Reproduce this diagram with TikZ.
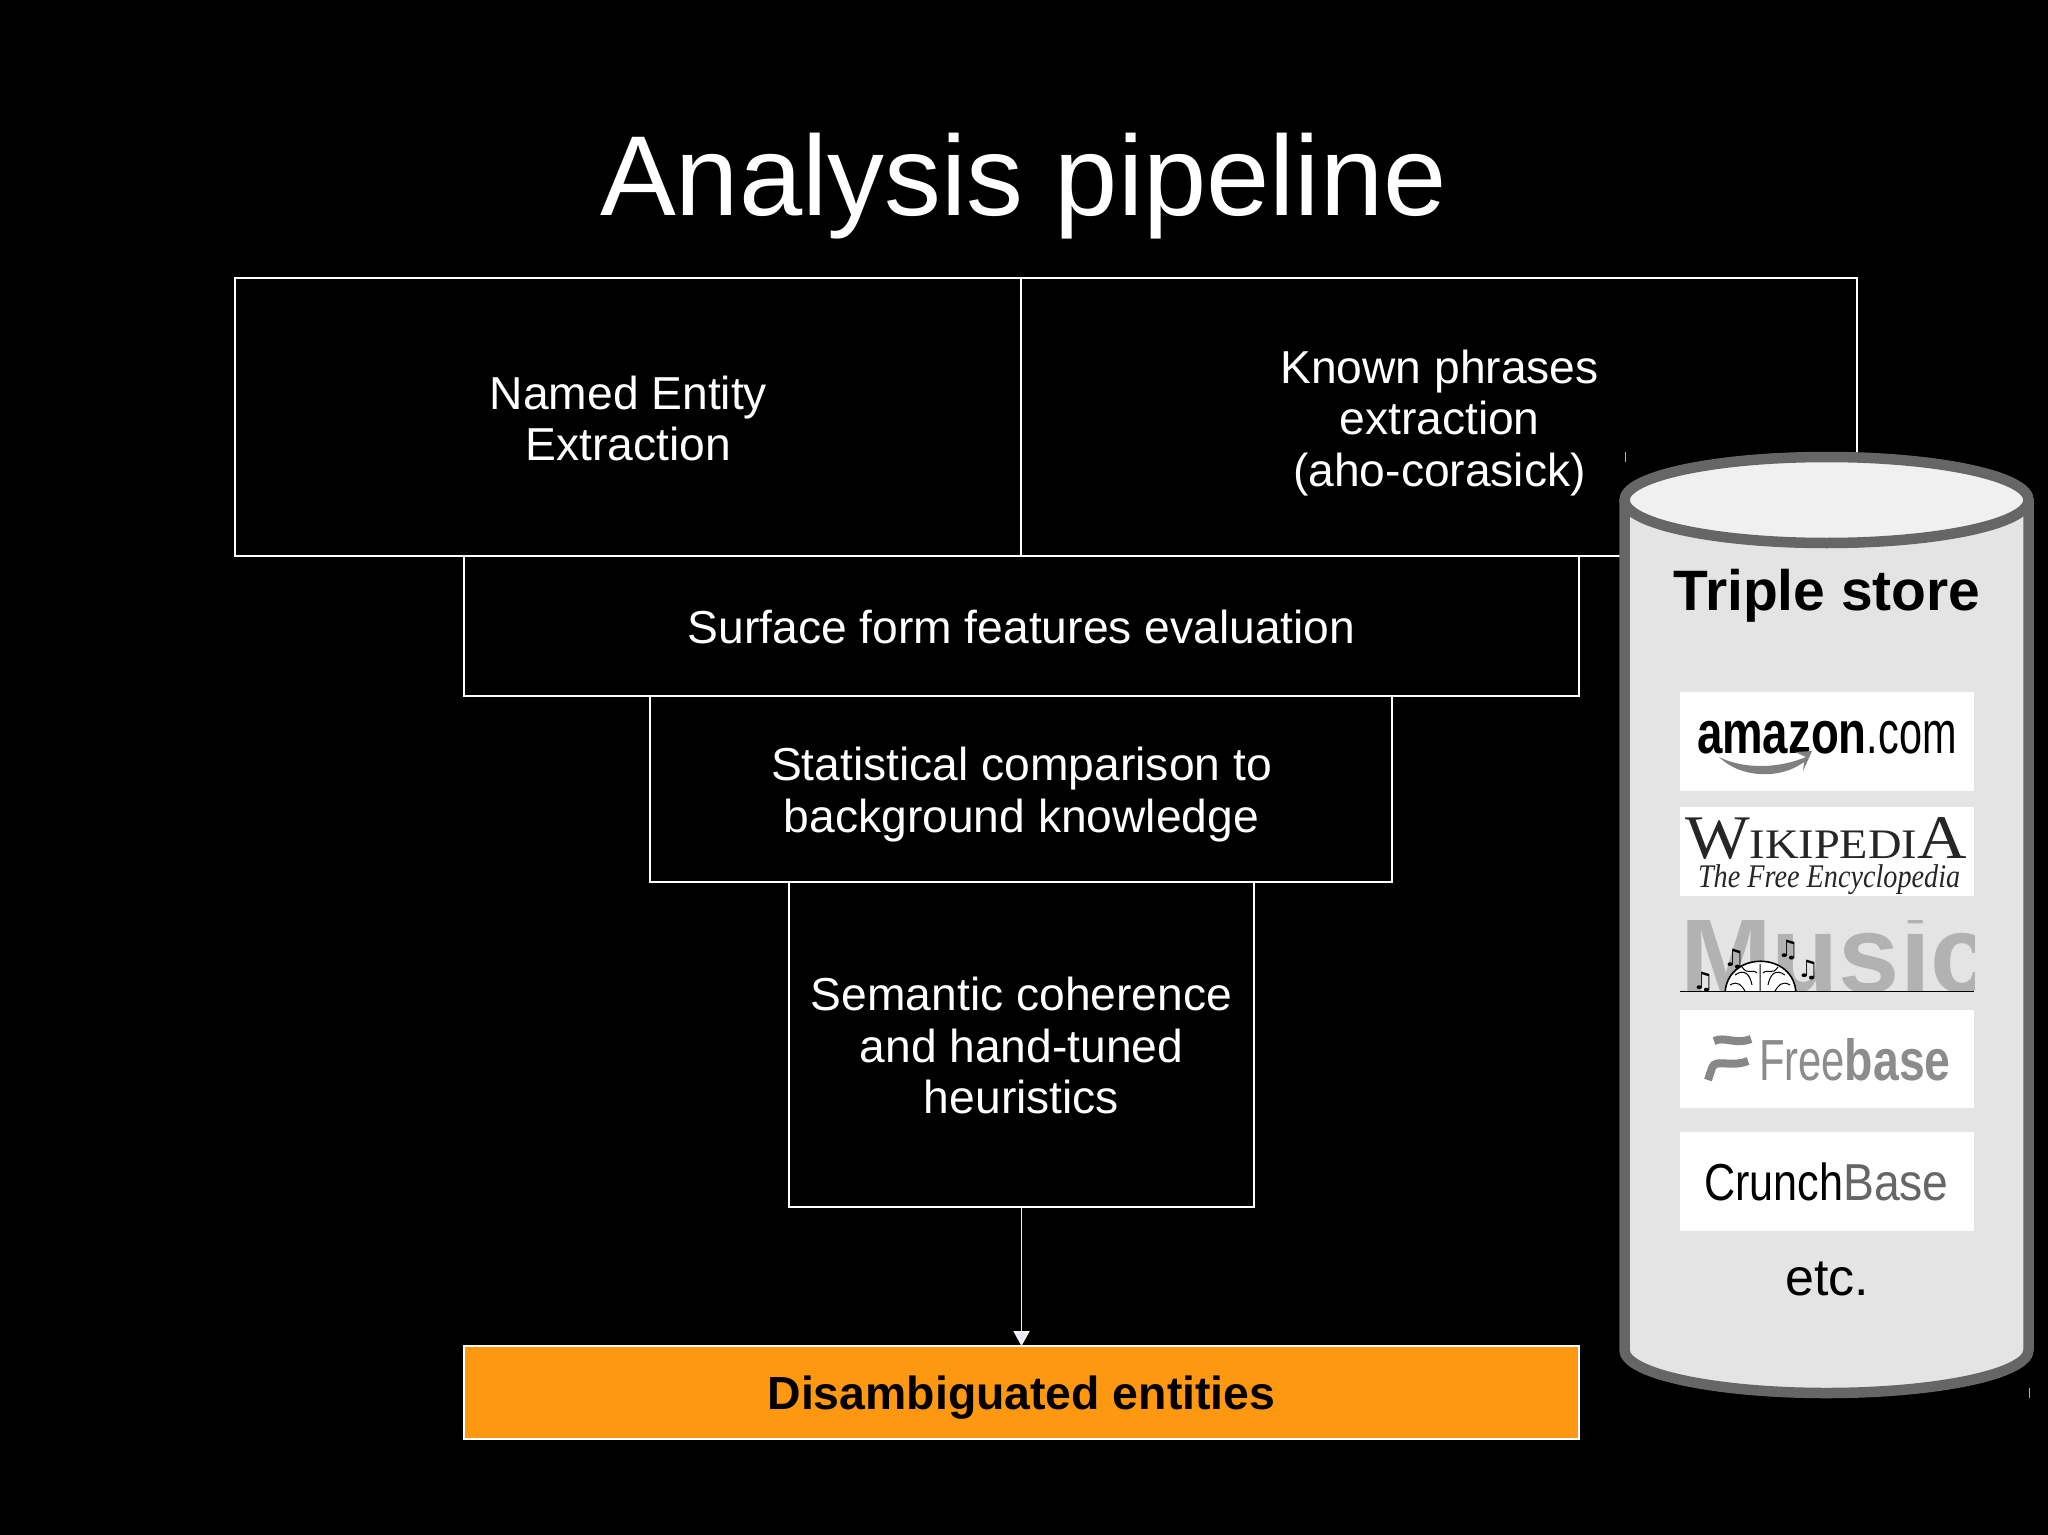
\documentclass[tikz,border=0pt]{standalone}
\usepackage{fontspec}
\usepackage{graphicx}
\setmainfont{Liberation Sans}
\newfontfamily\wikifont{Liberation Serif}
\newfontfamily\notefont{DejaVu Sans}
\usetikzlibrary{arrows.meta}
\definecolor{cylline}{HTML}{666666}
\definecolor{cylbody}{HTML}{E4E4E4}
\definecolor{cyltop}{HTML}{F0F0F0}
\definecolor{boxorange}{HTML}{FF9811}
\definecolor{tiplav}{HTML}{E6E6FF}
\tikzset{
  x=0.5pt,y=-0.5pt,
  stagebox/.style={draw=white,line width=0.75pt,inner sep=0pt,outer sep=0pt},
  stagelabel/.style={inner sep=0pt,outer sep=0pt,text=white,align=center,font=\fontsize{23.1}{25.8}\selectfont},
  logobox/.style={fill=white,draw=none,inner sep=0pt,outer sep=0pt,minimum width=147pt},
  cyltext/.style={inner sep=0pt,outer sep=0pt,anchor=base,text=black},
  logotext/.style={inner sep=0pt,outer sep=0pt,anchor=base west},
  musicnote/.style={inner sep=0pt,outer sep=0pt,text=black,font=\notefont\fontsize{12}{12}\selectfont},
}
\begin{document}
\begin{tikzpicture}
\fill[black,overlay] (-20,-20) rectangle (2070,1560);
\useasboundingbox (0,0) rectangle (2048,1534.6);
\node[inner sep=0pt,anchor=base,text=white,font=\fontsize{56.85}{60}\selectfont] (title) at (1023.5,215.5) {Analysis pipeline};

\node[stagebox,minimum width=393pt,minimum height=139pt] (ner) at (628,417) {};
\node[stagebox,minimum width=418pt,minimum height=139pt] (known) at (1439,417) {};
\node[stagebox,minimum width=557.5pt,minimum height=70pt] (surface) at (1021.5,626) {};
\node[stagebox,minimum width=371pt,minimum height=93pt] (stat) at (1021,789) {};
\node[stagebox,minimum width=232.5pt,minimum height=162.5pt] (sem) at (1021.5,1044.5) {};
\node[stagebox,fill=boxorange,minimum width=557.5pt,minimum height=46.5pt] (dis) at (1021.5,1392.5) {};
\node[stagelabel] (nerlabel) at (628.5,418.3) {Named Entity\\Extraction};
\node[stagelabel] (knownlabel) at (1439.5,423) {Known phrases\\extraction\\(aho-corasick)};
\node[stagelabel] (surfacelabel) at (1021.5,626.7) {Surface form features evaluation};
\node[stagelabel] (statlabel) at (1021.5,794.5) {Statistical comparison to\\background knowledge};
\node[stagelabel] (semlabel) at (1021.5,1045.5) {Semantic coherence\\and hand-tuned\\heuristics};
\node[stagelabel,text=black,font=\fontsize{23.2}{25.8}\selectfont\bfseries] (dislabel) at (1021.5,1397.5) {Disambiguated entities};
\draw[white!92!gray,line width=0.95pt,-{Triangle[length=7.5pt,width=8pt,fill=tiplav]}] (sem.south) -- (dis.north);

% cylinder
\draw[cylline,line width=5.25pt,fill=cylbody,line join=round] (1624.5,500) -- (1624.5,1350) arc[start angle=180,end angle=360,x radius=101pt,y radius=21.5pt] -- (2028.5,500) -- cycle;
\draw[cylline,line width=5.25pt,fill=cyltop] (1826.5,500) ellipse[x radius=101pt,y radius=21.5pt];
\draw[white!70!black,line width=0.4pt] (1625,452) -- (1625,462);
\draw[white!70!black,line width=0.4pt] (2029,1388) -- (2029,1398);
\node[cyltext,font=\fontsize{28.5}{30}\selectfont\bfseries] (triple) at (1827,610) {Triple store};

% logos
\node[logobox,anchor=north west,minimum height=49.5pt] (amazonbox) at (1680,692) {};
\node[logotext] (amazon) at (1697,753) {\fontsize{30}{30}\selectfont\scalebox{0.76}[1]{\bfseries amazon}\scalebox{0.69}[1]{.com}};
\fill[gray] (1719,757) .. controls (1745,770) and (1780,768) .. (1806,757) -- (1795,752) -- (1812,751) -- (1803,771) -- (1804,762) .. controls (1780,780) and (1740,778) .. (1719,757) -- cycle;

\node[logobox,anchor=north west,minimum height=44.5pt] (wikibox) at (1680,807) {};
\node[logotext,text=black!85] (wiki) at (1685,858) {\wikifont\scalebox{1.105}[1]{\fontsize{31}{31}\selectfont W\fontsize{21}{21}\selectfont IKIPEDI\fontsize{31}{31}\selectfont A}};
\node[logotext,text=black!85] (wikisub) at (1698,887) {\wikifont\itshape\scalebox{0.855}[1]{\fontsize{16.5}{16.5}\selectfont The Free Encyclopedia}};

\begin{scope}
\clip (1680,920) rectangle (1974,991);
\node[logotext,text=black!30,font=\fontsize{55}{55}\selectfont\bfseries] (music) at (1680,992) {Music};
\fill[white,draw=black,line width=0.8pt] (1725,995) .. controls (1725,950) and (1796,950) .. (1796,995) -- cycle;
\draw[black,line width=0.5pt] (1760,964) -- (1760,995)
  (1735,975) .. controls (1745,968) and (1750,975) .. (1752,985)
  (1785,975) .. controls (1775,968) and (1770,975) .. (1768,985)
  (1742,967) .. controls (1748,976) and (1752,968) .. (1757,973)
  (1778,967) .. controls (1772,976) and (1768,968) .. (1763,973)
  (1730,985) .. controls (1738,980) and (1742,986) .. (1745,991)
  (1790,985) .. controls (1782,980) and (1778,986) .. (1775,991);
\end{scope}
\draw[black,line width=0.5pt] (1680,991) -- (1974,991);
\node[musicnote] (n1) at (1703,982) {♫};
\node[musicnote] (n2) at (1734,959) {♫};
\node[musicnote] (n3) at (1788,950) {♫};
\node[musicnote] (n4) at (1808,970) {♫};

\node[logobox,anchor=north west,minimum height=49pt] (freebox) at (1680,1010) {};
\draw[black!47,line width=4pt] (1714,1041) .. controls (1725,1036) and (1735,1045) .. (1751,1039);
\draw[black!47,line width=4pt] (1708,1080) -- (1712,1068) .. controls (1715,1058) and (1730,1068) .. (1748,1061);
\node[logotext,text=black!45] (free) at (1759,1080) {\fontsize{29}{29}\selectfont\scalebox{0.72}[1]{Free}\scalebox{0.8}[1]{\bfseries base}};

\node[logobox,anchor=north west,minimum height=49.5pt] (crunchbox) at (1680,1132) {};
\node[logotext] (crunch) at (1704,1200) {\fontsize{26}{26}\selectfont\scalebox{0.83}[1]{\textcolor{black}{Crunch}}\scalebox{0.89}[1]{\textcolor{cylline}{Base}}};

\node[cyltext,font=\fontsize{26}{28}\selectfont] (etc) at (1827,1295) {etc.};
\end{tikzpicture}
\end{document}
